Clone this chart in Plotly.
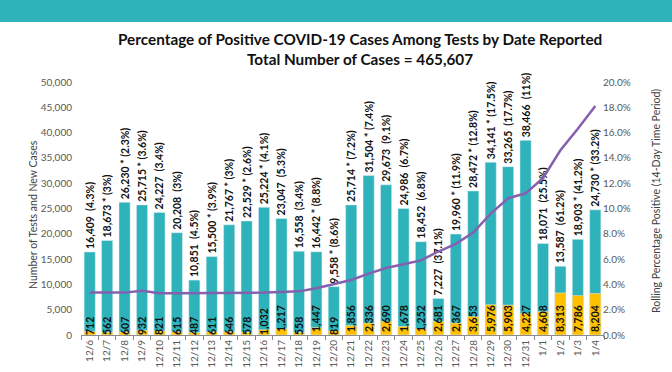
import plotly.graph_objects as go

dates = ["12/6","12/7","12/8","12/9","12/10","12/11","12/12","12/13","12/14","12/15",
         "12/16","12/17","12/18","12/19","12/20","12/21","12/22","12/23","12/24","12/25",
         "12/26","12/27","12/28","12/29","12/30","12/31","1/1","1/2","1/3","1/4"]
tests = [16409,18673,26230,25715,24227,20208,10851,15500,21767,22529,
         25224,23047,16558,16442,9558,25714,31504,29673,24986,18452,
         7227,19960,28472,34141,33265,38466,18071,13587,18903,24730]
daily_pct = ["4.3%","3%","2.3%","3.6%","3.4%","3%","4.5%","3.9%","3%","2.6%",
             "4.1%","5.3%","3.4%","8.8%","8.6%","7.2%","7.4%","9.1%","6.7%","6.8%",
             "37.1%","11.9%","12.8%","17.5%","17.7%","11%","25.5%","61.2%","41.2%","33.2%"]
starred = [False,True,True,True,False,False,False,True,True,True,
           True,False,False,True,True,True,True,False,False,False,
           False,True,True,True,False,False,False,False,True,True]
cases = [712,562,607,932,821,615,487,611,646,578,
         1032,1217,558,1447,819,1856,2336,2690,1678,1252,
         2681,2367,3653,5976,5903,4227,4608,8313,7786,8204]
rolling_pct = [3.35,3.35,3.35,3.5,3.3,3.3,3.3,3.3,3.3,3.3,
               3.35,3.4,3.45,3.7,4.0,4.35,4.85,5.3,5.6,5.9,
               6.6,7.2,8.1,9.6,10.8,11.2,12.4,14.6,16.3,18.1]
title_line1 = "Percentage of Positive COVID-19 Cases Among Tests by Date Reported"
title_line2 = "Total Number of Cases = 465,607"
left_title = "Number of Tests and New Cases"
right_title = "Rolling Percentage Positive (14-Day Time Period)"

test_labels = [f"{t:,}{' * ' if s else '  '}({p})" for t, s, p in zip(tests, starred, daily_pct)]
case_labels = [f"{c:,}" for c in cases]

TEAL = "#2EB3BB"
GOLD = "#FFC000"
PURPLE = "#8560AE"
FONT = "Lato"

fig = go.Figure()
fig.add_trace(go.Bar(
    x=dates, y=tests, marker_color=TEAL, name="Tests",
    text=test_labels, textposition="outside", textangle=-90,
    constraintext="none", cliponaxis=False,
    outsidetextfont=dict(family=FONT, size=10.5, color="#111111", weight="bold"),
))
fig.add_trace(go.Bar(
    x=dates, y=cases, marker_color=GOLD, name="Cases",
    text=case_labels, textposition="inside", insidetextanchor="start", textangle=-90,
    constraintext="none", cliponaxis=False,
    insidetextfont=dict(family=FONT, size=10.5, color="#111111", weight="bold"),
))
fig.add_trace(go.Scatter(
    x=dates, y=rolling_pct, yaxis="y2", mode="lines",
    line=dict(color=PURPLE, width=2.5), name="Rolling",
))

title_font = dict(family=FONT, size=15.3, color="#111111", weight="bold")
axis_title_font = dict(family=FONT, size=10.5, color="#404040")

fig.update_layout(
    width=672, height=372,
    margin=dict(l=81, r=68, t=82, b=37, autoexpand=False),
    paper_bgcolor="white", plot_bgcolor="white",
    barmode="overlay", bargap=0.36,
    showlegend=False,
    font=dict(family=FONT, color="#595959", size=10),
    annotations=[
        dict(text=title_line1, xref="paper", yref="paper", x=0.5335, y=(335 - 39) / 253,
             xanchor="center", yanchor="middle", showarrow=False, font=title_font),
        dict(text=title_line2, xref="paper", yref="paper", x=0.5335, y=(335 - 59) / 253,
             xanchor="center", yanchor="middle", showarrow=False, font=title_font),
        dict(text=left_title, xref="paper", yref="paper", x=(33 - 81) / 523, y=(335 - 215) / 253,
             xanchor="center", yanchor="middle", textangle=-90, showarrow=False, font=axis_title_font),
        dict(text=right_title, xref="paper", yref="paper", x=(656 - 81) / 523, y=(335 - 201) / 253,
             xanchor="center", yanchor="middle", textangle=-90, showarrow=False, font=axis_title_font),
    ],
    xaxis=dict(
        type="category", tickangle=-90, tickson="boundaries",
        ticks="outside", ticklen=4, tickcolor="#8c8c8c",
        showline=True, linecolor="#8c8c8c", linewidth=1,
        showgrid=False, automargin=False,
        tickfont=dict(size=10, color="#595959"),
    ),
    yaxis=dict(
        range=[0, 50000], dtick=5000, tickformat=",d",
        showgrid=False, zeroline=False, showline=False, ticks="",
        ticklabelstandoff=8, automargin=False,
        tickfont=dict(size=10, color="#595959"),
    ),
    yaxis2=dict(
        overlaying="y", side="right", range=[0, 20], dtick=2,
        ticksuffix="%", tickformat=".1f",
        showgrid=False, zeroline=False, showline=False, ticks="",
        ticklabelstandoff=-2, automargin=False,
        tickfont=dict(size=10, color="#595959"),
    ),
    shapes=[dict(type="rect", xref="paper", yref="paper",
                 x0=-0.2, x1=1.2, y0=(335 - 22) / 253, y1=1.4,
                 fillcolor=TEAL, line=dict(width=0), layer="above")],
)

fig.write_html("out.html", config={"displayModeBar": False},
               post_script="document.body.style.margin='0px';")
